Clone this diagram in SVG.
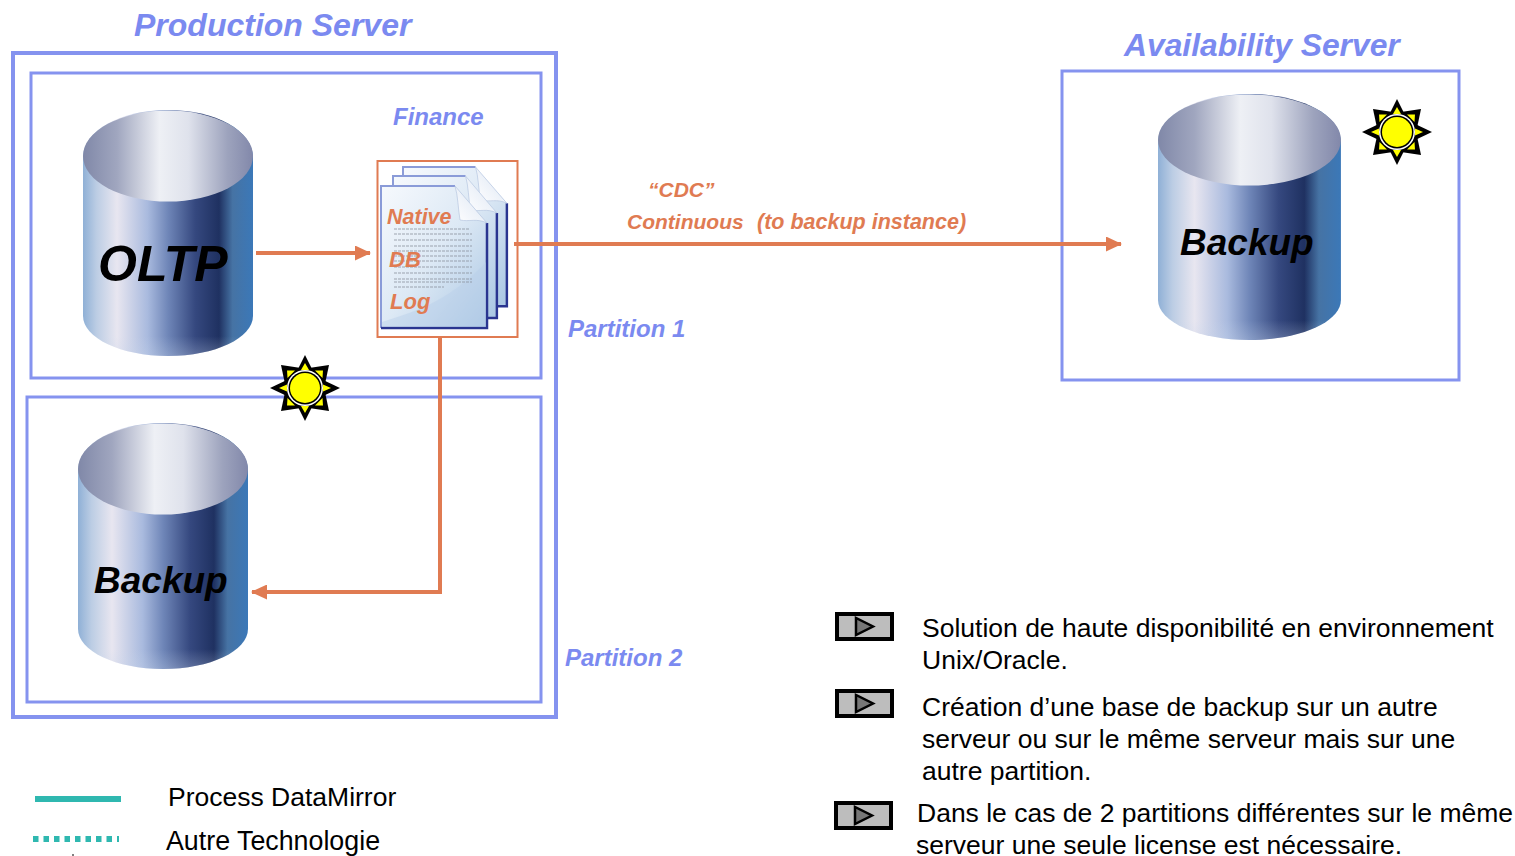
<svg xmlns="http://www.w3.org/2000/svg" xmlns:xlink="http://www.w3.org/1999/xlink" width="1515" height="856" viewBox="0 0 1515 856">
<style>
text{font-family:"Liberation Sans",Arial,sans-serif}
.box{fill:none;stroke:#8593ef}
.blue{fill:#7b8af0;font-weight:bold;font-style:italic}
.or{fill:#e07b52;font-weight:bold;font-style:italic}
.cyl{fill:#000;font-weight:bold;font-style:italic}
.body{fill:#000;font-size:26.500px}
.conn{fill:none;stroke:#e07b52;stroke-width:4}
</style>
<defs>
<linearGradient id="gBody" x1="0" x2="1" y1="0" y2="0">
<stop offset="0" stop-color="#8fb0d6"/><stop offset=".08" stop-color="#bccde4"/><stop offset=".2" stop-color="#e8e6f0"/><stop offset=".38" stop-color="#a9bade"/><stop offset=".5" stop-color="#6f86b8"/><stop offset=".66" stop-color="#35487f"/><stop offset=".8" stop-color="#1f3161"/><stop offset=".88" stop-color="#4673a4"/><stop offset="1" stop-color="#3b78b8"/>
</linearGradient>
<linearGradient id="gTop" x1="0" x2="1" y1="0" y2="0">
<stop offset="0" stop-color="#8088a8"/><stop offset=".2" stop-color="#a0a6bf"/><stop offset=".45" stop-color="#eef0f5"/><stop offset=".62" stop-color="#dfe2ec"/><stop offset=".85" stop-color="#9da3bd"/><stop offset="1" stop-color="#8288aa"/>
</linearGradient>
<linearGradient id="gBot" x1="0" x2="0" y1="0" y2="1">
<stop offset="0" stop-color="#c8d6ec" stop-opacity="0"/><stop offset=".7" stop-color="#c8d6ec" stop-opacity="0"/><stop offset="1" stop-color="#c8d6ec" stop-opacity=".3"/>
</linearGradient>
<linearGradient id="gPage" x1="0" x2="1" y1="0" y2="1">
<stop offset="0" stop-color="#f6f9fd"/><stop offset=".5" stop-color="#dde9f5"/><stop offset="1" stop-color="#a9c6e3"/>
</linearGradient>
<linearGradient id="gFold" x1="0" x2="1" y1="1" y2="0">
<stop offset="0" stop-color="#ffffff"/><stop offset=".6" stop-color="#e8eef7"/><stop offset="1" stop-color="#8fa8cf"/>
</linearGradient>
<g id="cylinder">
<path d="M0,48C0,20 38,0 85,0C132,0 170,20 170,48V206C170,228 132,246 85,246C38,246 0,228 0,206Z" fill="url(#gBody)"/>
<path d="M0,180H170V206C170,228 132,246 85,246C38,246 0,228 0,206Z" fill="url(#gBot)"/>
<ellipse cx="85" cy="46" rx="85" ry="45.500" fill="url(#gTop)"/>
</g>
<g id="sun">
<g fill="#000">
<polygon points="0,-33 -9,-15 9,-15"/><polygon points="0,33 -9,15 9,15"/><polygon points="-35,0 -16,-9 -16,9"/><polygon points="35,0 16,-9 16,9"/>
<polygon points="-24,-23 -20,-4 -4,-20"/><polygon points="24,-23 20,-4 4,-20"/><polygon points="-24,23 -20,4 -4,20"/><polygon points="24,23 20,4 4,20"/>
</g>
<g fill="#ff0">
<polygon points="0,-25 -4,-18 4,-18"/><polygon points="0,25 -4,18 4,18"/><polygon points="-26,0 -18,-3.500 -18,3.500"/><polygon points="26,0 18,-3.500 18,3.500"/>
<polygon points="-18,-17.500 -17.500,-10 -10,-17.500"/><polygon points="18,-17.500 17.500,-10 10,-17.500"/><polygon points="-18,17.500 -17.500,10 -10,17.500"/><polygon points="18,17.500 17.500,10 10,17.500"/>
</g>
<circle r="18" fill="#fff"/><circle r="16.500" fill="#000"/><circle r="15" fill="#ff0"/>
</g>
<g id="page">
<path d="M0,0H74L106,37V142H0Z" fill="url(#gPage)"/>
<path d="M0,142V0H74" stroke="#8a9bd8" stroke-width="2" fill="none"/>
<path d="M106,37V142H0" stroke="#2a3590" stroke-width="2.500" fill="none"/>
<path d="M74,0L106,37C96,32 88,36 79,34C77,22 77,10 74,0Z" fill="url(#gFold)" stroke="#b6c6e0" stroke-width=".7"/>
</g>
<g id="play">
<rect x="2" y="2" width="55" height="25" fill="#bdbdbd" stroke="#000" stroke-width="4"/>
<polygon points="21,6 21,23 38,14.500" fill="#777" stroke="#000" stroke-width="2.500"/>
</g>
<marker id="arr" markerUnits="userSpaceOnUse" markerWidth="16" markerHeight="15" refX="15" refY="7.500" orient="auto">
<polygon points="0,0 16,7.500 0,15" fill="#e07b52"/>
</marker>
</defs>

<g id="production-server">
<rect class="box" x="13" y="53" width="543" height="664" stroke-width="4"/>
<text class="blue" x="134" y="36" font-size="32">Production Server</text>
</g>
<g id="partition-1">
<rect class="box" x="31" y="73" width="510" height="305" stroke-width="3"/>
<text class="blue" x="568" y="337" font-size="24">Partition 1</text>
<text class="blue" x="393" y="125" font-size="24">Finance</text>
</g>
<g id="partition-2">
<rect class="box" x="27" y="397" width="514" height="305" stroke-width="3"/>
<text class="blue" x="565" y="666" font-size="24">Partition 2</text>
</g>
<g id="availability-server">
<rect class="box" x="1062" y="71" width="397" height="309" stroke-width="3"/>
<text class="blue" x="1124" y="56" font-size="31.800">Availability Server</text>
</g>

<g id="oltp">
<use xlink:href="#cylinder" href="#cylinder" transform="translate(83,110)"/>
<text class="cyl" x="98" y="281" font-size="50">OLTP</text>
</g>
<g id="backup-local">
<use xlink:href="#cylinder" href="#cylinder" transform="translate(78,423)"/>
<text class="cyl" x="94" y="593" font-size="37">Backup</text>
</g>
<g id="backup-remote">
<use xlink:href="#cylinder" href="#cylinder" transform="translate(1158,94) scale(1.076,1)"/>
<text class="cyl" x="1180" y="255" font-size="37">Backup</text>
</g>
<g id="sun-1"><use xlink:href="#sun" href="#sun" transform="translate(305,388)"/></g>
<g id="sun-2"><use xlink:href="#sun" href="#sun" transform="translate(1397,132)"/></g>

<g id="native-db-log">
<rect x="377.500" y="161" width="140" height="176" fill="#fff" stroke="#e07b52" stroke-width="2"/>
<use xlink:href="#page" href="#page" transform="translate(403,167) scale(.98,.98)"/>
<use xlink:href="#page" href="#page" transform="translate(393,176) scale(.98,1)"/>
<use xlink:href="#page" href="#page" transform="translate(381,186)"/>
<path d="M382,327L486,327V262C450,300 420,310 382,322Z" fill="#b7cfe8" opacity=".45"/>
<g stroke="#8b929e" stroke-width="1" stroke-dasharray="3 1" opacity=".8">
<path d="M394,229H470M394,234H472M394,240H472M394,246H472M394,251H472M394,256H472M394,261H472M394,267H472M394,273H472M394,279H472M394,282H472M394,287H444"/>
</g>
<text class="or" x="387" y="224" font-size="21.500">Native</text>
<text class="or" x="389" y="267" font-size="22">DB</text>
<text class="or" x="390" y="309" font-size="22">Log</text>
</g>

<g id="connectors">
<path class="conn" d="M256,253H370" marker-end="url(#arr)"/>
<path class="conn" d="M514,244H1121" stroke-width="3" marker-end="url(#arr)"/>
<path class="conn" d="M440,337V592"/>
<path class="conn" d="M442,592H252" marker-end="url(#arr)"/>
</g>
<g id="connector-labels">
<text class="or" x="648" y="197" font-size="21">“CDC”</text>
<text class="or" x="627" y="229" font-size="21">Continuous</text>
<text class="or" x="757" y="229" font-size="21.500">(to backup instance)</text>
</g>

<g id="legend">
<path d="M35,799H121" stroke="#2fb8b0" stroke-width="6" fill="none"/>
<path d="M33,839H119" stroke="#2fb8b0" stroke-width="6" stroke-dasharray="5.500 5" fill="none"/>
<text class="body" x="168" y="806" font-size="26.600">Process DataMirror</text>
<text class="body" x="166" y="850" style="font-size:26.800px">Autre Technologie</text>
<path d="M73,854V856" stroke="#000" stroke-width="1"/>
</g>
<g id="notes">
<use xlink:href="#play" href="#play" transform="translate(835,612)"/>
<text class="body" x="922" y="637">Solution de haute disponibilité en environnement</text>
<text class="body" x="922" y="669">Unix/Oracle.</text>
<use xlink:href="#play" href="#play" transform="translate(835,689)"/>
<text class="body" x="922" y="716">Création d’une base de backup sur un autre</text>
<text class="body" x="922" y="748">serveur ou sur le même serveur mais sur une</text>
<text class="body" x="922" y="780">autre partition.</text>
<use xlink:href="#play" href="#play" transform="translate(834,801)"/>
<text class="body" x="917" y="822">Dans le cas de 2 partitions différentes sur le même</text>
<text class="body" x="916" y="854">serveur une seule license est nécessaire.</text>
</g>
</svg>
